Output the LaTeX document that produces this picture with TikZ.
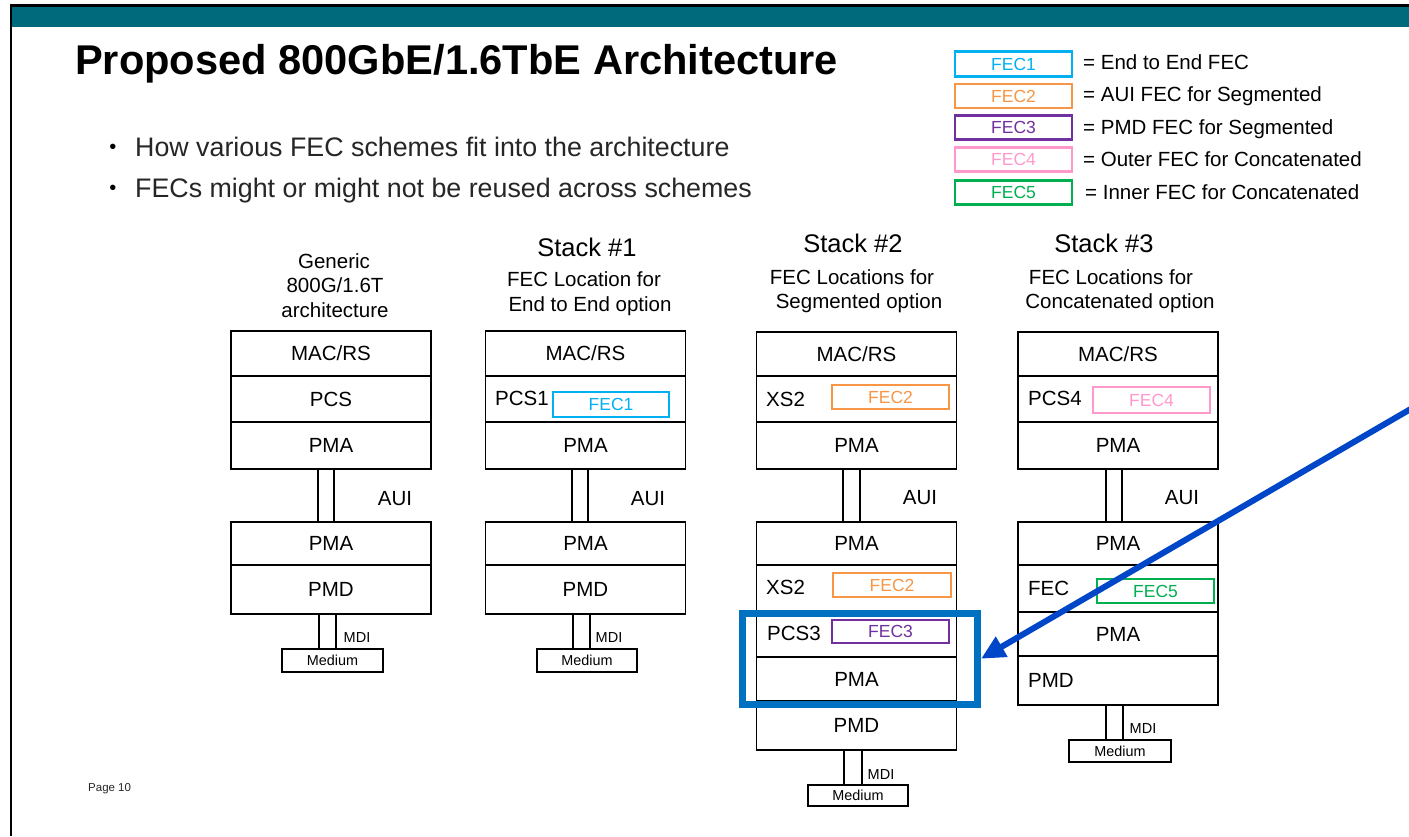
\documentclass[tikz,border=0pt]{standalone}
\usepackage{fontspec}
\setmainfont{Liberation Sans}
\usetikzlibrary{arrows.meta}
\definecolor{barteal}{RGB}{0,106,125}
\definecolor{fecone}{RGB}{0,176,240}
\definecolor{fectwo}{RGB}{247,150,70}
\definecolor{fecthree}{RGB}{112,48,160}
\definecolor{fecfour}{RGB}{255,153,204}
\definecolor{fecfive}{RGB}{0,176,80}
\definecolor{hlblue}{RGB}{0,112,192}
\definecolor{arrblue}{RGB}{0,70,200}
\definecolor{pagegrey}{RGB}{40,40,40}
\newcommand{\fsz}[1]{\fontsize{#1}{#1}\selectfont}
\begin{document}
\begin{tikzpicture}[x=1pt,y=-1pt,
  layer/.style={draw=black, line width=1.6pt, minimum width=200pt, inner sep=0pt, outer sep=0pt, font=\fsz{20.5}},
  stembox/.style={draw=black, line width=1.6pt, inner sep=0pt, outer sep=0pt},
  fecbox/.style={line width=2.6pt, inner sep=0pt, minimum width=117pt, minimum height=24pt, font=\fsz{17.5}},
  legtext/.style={anchor=base west, inner sep=0pt, font=\fsz{20.5}},
  rowlabel/.style={anchor=base west, inner sep=0pt, font=\fsz{20.5}},
  head/.style={anchor=base, inner sep=0pt, font=\fsz{20.5}},
  stackhead/.style={anchor=base, inner sep=0pt, font=\fsz{25.5}},
  auilabel/.style={inner sep=0pt, font=\fsz{20.5}},
  mdilabel/.style={inner sep=0pt, font=\fsz{14.5}},
  medbox/.style={draw=black, line width=1.6pt, inner sep=0pt, font=\fsz{14.4}}
]
\useasboundingbox (0,0) rectangle (1409,836);
\fill[white] (0,0) rectangle (1409,836);
% page frame
\fill[black] (9.5,4) rectangle (1409,7);
\fill[barteal] (11.5,7) rectangle (1409,27);
\fill[black] (9.5,4) rectangle (11.5,836);

% title and bullets
\node[anchor=base west, inner sep=0pt, font=\fsz{41.6}\bfseries] (title) at (75,74.5) {Proposed 800GbE/1.6TbE Architecture};
\node[inner sep=0pt, font=\fsz{20}] (b1) at (113,149) {•};
\node[anchor=base west, inner sep=0pt, font=\fsz{26.8}, text=black!85] (t1) at (135,156.5) {How various FEC schemes fit into the architecture};
\node[inner sep=0pt, font=\fsz{20}] (b2) at (113,190) {•};
\node[anchor=base west, inner sep=0pt, font=\fsz{26.8}, text=black!85] (t2) at (135,197.5) {FECs might or might not be reused across schemes};

% legend
\node[fecbox, draw=fecone, text=fecone, minimum height=25pt] (l1) at (1013.5,64) {FEC1};
\node[fecbox, draw=fectwo, text=fectwo] (l2) at (1013.5,96) {FEC2};
\node[fecbox, draw=fecthree, text=fecthree] (l3) at (1013.5,127.5) {FEC3};
\node[fecbox, draw=fecfour, text=fecfour] (l4) at (1013.5,159.5) {FEC4};
\node[fecbox, draw=fecfive, text=fecfive] (l5) at (1013.5,192.5) {FEC5};
\node[legtext] (lt1) at (1083,69.5) {= End to End FEC};
\node[legtext] (lt2) at (1083,101.5) {= AUI FEC for Segmented};
\node[legtext] (lt3) at (1083,134) {= PMD FEC for Segmented};
\node[legtext] (lt4) at (1083,166.5) {= Outer FEC for Concatenated};
\node[legtext] (lt5) at (1085,199.5) {= Inner FEC for Concatenated};

% headings
\node[head] (h0a) at (334,268) {Generic};
\node[head] (h0b) at (335,292.5) {800G/1.6T};
\node[head] (h0c) at (335,317) {architecture};
\node[stackhead] (h1a) at (587,256) {Stack \#1};
\node[head] (h1b) at (584,286.5) {FEC Location for};
\node[head] (h1c) at (590,311) {End to End option};
\node[stackhead] (h2a) at (853,252.5) {Stack \#2};
\node[head] (h2b) at (852,284) {FEC Locations for};
\node[head] (h2c) at (859,308.5) {Segmented option};
\node[stackhead] (h3a) at (1104,252.5) {Stack \#3};
\node[head] (h3b) at (1111,284) {FEC Locations for};
\node[head] (h3c) at (1120,308.5) {Concatenated option};

% ---- Stack 0 (generic)
\node[layer, minimum height=45pt] (s0mac) at (331,353.5) {MAC/RS};
\node[layer, minimum height=46pt] (s0pcs) at (331,399) {PCS};
\node[layer, minimum height=47pt] (s0pma) at (331,445.5) {PMA};
\node[stembox, minimum width=16pt, minimum height=53pt] (s0aui) at (326,495.5) {};
\node[auilabel] (s0auil) at (395,499) {AUI};
\node[layer, minimum height=43pt] (s0pmb) at (331,543.5) {PMA};
\node[layer, minimum height=49pt] (s0pmd) at (331,589.5) {PMD};
\node[stembox, minimum width=17pt, minimum height=35pt] (s0mdi) at (327.5,631.5) {};
\node[mdilabel] (s0mdil) at (357,638) {MDI};
\node[medbox, minimum width=101pt, minimum height=23pt] (s0med) at (332.5,660.5) {Medium};

% ---- Stack 1
\node[layer, minimum height=45pt] (s1mac) at (585.5,353.5) {MAC/RS};
\node[layer, minimum height=46pt] (s1pcs) at (585.5,399) {};
\node[rowlabel] (s1pcsl) at (495,405.5) {PCS1};
\node[fecbox, draw=fecone, text=fecone, minimum width=116pt, minimum height=25pt] (s1fec) at (611,404.5) {FEC1};
\node[layer, minimum height=47pt] (s1pma) at (585.5,445.5) {PMA};
\node[stembox, minimum width=16pt, minimum height=53pt] (s1aui) at (580,495.5) {};
\node[auilabel] (s1auil) at (648,499) {AUI};
\node[layer, minimum height=43pt] (s1pmb) at (585.5,543.5) {PMA};
\node[layer, minimum height=49pt] (s1pmd) at (585.5,589.5) {PMD};
\node[stembox, minimum width=17pt, minimum height=35pt] (s1mdi) at (581.5,631.5) {};
\node[mdilabel] (s1mdil) at (609,638) {MDI};
\node[medbox, minimum width=100pt, minimum height=23pt] (s1med) at (587,660.5) {Medium};

% ---- Stack 2
\node[layer, minimum height=44pt] (s2mac) at (856.5,354) {MAC/RS};
\node[layer, minimum height=46pt] (s2xs) at (856.5,399) {};
\node[rowlabel] (s2xsl) at (766,406) {XS2};
\node[fecbox, draw=fectwo, text=fectwo] (s2feca) at (890.5,397) {FEC2};
\node[layer, minimum height=47pt] (s2pma) at (856.5,445.5) {PMA};
\node[stembox, minimum width=17pt, minimum height=53pt] (s2aui) at (851.5,495.5) {};
\node[auilabel] (s2auil) at (920,498) {AUI};
\node[layer, minimum height=43pt] (s2pmb) at (856.5,543.5) {PMA};
\node[layer, minimum height=47pt] (s2xsb) at (856.5,588.5) {};
\node[rowlabel] (s2xsbl) at (766,594) {XS2};
\node[fecbox, draw=fectwo, text=fectwo, minimum width=118pt] (s2fecb) at (892,585) {FEC2};
\node[layer, minimum height=45pt] (s2pcs) at (856.5,634.5) {};
\node[rowlabel] (s2pcsl) at (767,640) {PCS3};
\node[fecbox, draw=fecthree, text=fecthree, minimum height=23pt] (s2fecc) at (890.5,631.5) {FEC3};
\node[layer, minimum height=44pt] (s2pmc) at (856.5,679) {PMA};
\node[layer, minimum height=49pt] (s2pmd) at (856.5,725.5) {PMD};
\node[stembox, minimum width=18pt, minimum height=35pt] (s2mdi) at (853,767.5) {};
\node[mdilabel] (s2mdil) at (881,775) {MDI};
\node[medbox, minimum width=100pt, minimum height=21pt] (s2med) at (858,795.5) {Medium};

% ---- Stack 3
\node[layer, minimum height=44pt] (s3mac) at (1118,354) {MAC/RS};
\node[layer, minimum height=46pt] (s3pcs) at (1118,399) {};
\node[rowlabel] (s3pcsl) at (1028,405.5) {PCS4};
\node[fecbox, draw=fecfour, text=fecfour, minimum height=26pt] (s3feca) at (1151.5,400) {FEC4};
\node[layer, minimum height=47pt] (s3pma) at (1118,445.5) {PMA};
\node[stembox, minimum width=16pt, minimum height=53pt] (s3aui) at (1114,495.5) {};
\node[auilabel] (s3auil) at (1182,498) {AUI};
\node[layer, minimum height=43pt] (s3pmb) at (1118,543.5) {PMA};
\node[layer, minimum height=47pt] (s3fec) at (1118,588.5) {};
\node[rowlabel] (s3fecl) at (1028,595) {FEC};
\node[fecbox, draw=fecfive, text=fecfive] (s3fecb) at (1155.5,591) {FEC5};
\node[layer, minimum height=44pt] (s3pmc) at (1118,634) {PMA};
\node[layer, minimum height=49pt] (s3pmd) at (1118,680.5) {};
\node[rowlabel] (s3pmdl) at (1028,687) {PMD};
\node[stembox, minimum width=17pt, minimum height=35pt] (s3mdi) at (1114.5,722.5) {};
\node[mdilabel] (s3mdil) at (1143,729) {MDI};
\node[medbox, minimum width=102pt, minimum height=22pt] (s3med) at (1120,751) {Medium};

% highlight and arrow
\node[draw=hlblue, line width=7pt, inner sep=0pt, minimum width=235pt, minimum height=90.5pt] (hl) at (860,658.75) {};
\coordinate (arrs) at (1411,408.8);
\draw[arrblue, line width=6pt, -{Triangle[length=24pt,width=22pt]}] (arrs) -- (hl.east);

% footer
\node[anchor=base west, inner sep=0pt, font=\fsz{11.5}, text=pagegrey] (page) at (88,791) {Page 10};
\end{tikzpicture}
\end{document}
